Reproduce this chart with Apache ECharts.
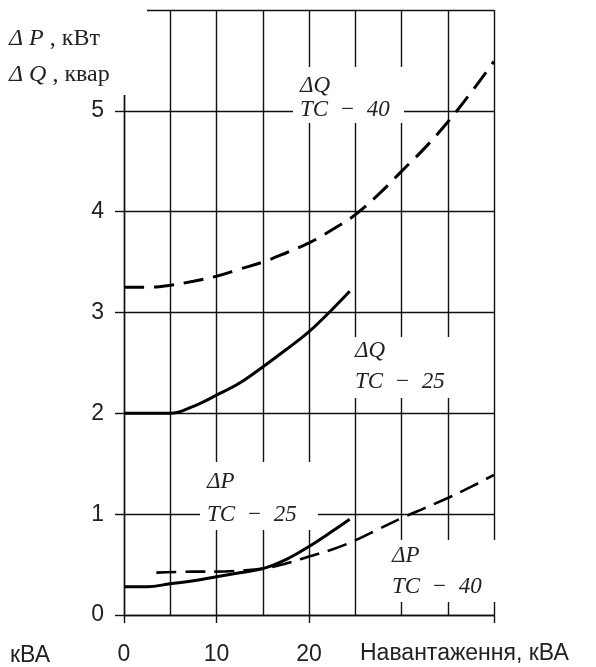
<!DOCTYPE html>
<html>
<head>
<meta charset="utf-8">
<script src="https://cdn.jsdelivr.net/npm/echarts@6/dist/echarts.min.js"></script>
<style>html,body{margin:0;padding:0;background:#fff}#c{width:596px;height:667px}</style>
</head>
<body>
<div id="c"></div>
<script>
// Load, kVA
const dQ40_x = [0, 2.5, 5, 7.5, 10, 12.5, 15, 17.5, 20, 22.5, 25, 27.5, 30, 32.5, 35, 37.5, 40];
const dQ40_y = [3.25, 3.25, 3.27, 3.31, 3.36, 3.43, 3.50, 3.59, 3.69, 3.82, 3.97, 4.17, 4.40, 4.63, 4.89, 5.18, 5.49];
const dQ25_x = [0, 2.5, 5, 7.5, 10, 12.5, 15, 17.5, 20, 22.5, 24.4];
const dQ25_y = [2.0, 2.0, 2.0, 2.07, 2.18, 2.30, 2.46, 2.63, 2.81, 3.03, 3.21];
const dP25_x = [0, 2.5, 5, 7.5, 10, 12.5, 15, 17.5, 20, 22.5, 24.4];
const dP25_y = [0.28, 0.28, 0.31, 0.34, 0.38, 0.42, 0.46, 0.55, 0.68, 0.83, 0.95];
const dP40_x = [3.5, 7.5, 10, 12.5, 15, 17.5, 20, 22.5, 25, 27.5, 30, 32.5, 35, 37.5, 40];
const dP40_y = [0.42, 0.43, 0.43, 0.44, 0.46, 0.51, 0.58, 0.65, 0.74, 0.85, 0.96, 1.06, 1.16, 1.27, 1.39];
const xTickLabels = [0, 10, 20];
const xTicks = [0, 10, 20, 40];
const yTickLabels = [0, 1, 2, 3, 4, 5];

const pairs = (xs, ys) => xs.map((x, i) => [x, ys[i]]);
const chart = echarts.init(document.getElementById('c'), null, {renderer: 'canvas'});
const INK = '#111';
const SANS = '"Liberation Sans", Arial, sans-serif';
const SERIF = '"Liberation Serif", "Times New Roman", serif';
const lblFont = 'italic 23px ' + SERIF;

function curveLabel(bx, by, bw, bh, tx, y1, y2, line1, line2) {
  return [
    {type: 'rect', z: 5, shape: {x: bx, y: by, width: bw, height: bh}, style: {fill: '#fff'}},
    {type: 'text', z: 6, x: tx, y: y1, style: {text: line1, font: lblFont, fill: '#222', verticalAlign: 'middle'}},
    {type: 'text', z: 6, x: tx, y: y2, style: {text: line2, font: lblFont, fill: '#222', verticalAlign: 'middle'}}
  ];
}

const gridLine = {show: true, lineStyle: {color: INK, width: 1.4}};
const option = {
  backgroundColor: '#fff',
  animation: false,
  grid: {left: 124, right: 102, top: 10, bottom: 52},
  xAxis: [
    { // grid lines
      type: 'value', min: 0, max: 40, interval: 5, position: 'bottom',
      axisLine: {show: false}, axisTick: {show: false}, axisLabel: {show: false},
      splitLine: gridLine
    },
    { // axis line, ticks, labels
      type: 'value', min: 0, max: 40, interval: 5, position: 'bottom', offset: 0,
      axisLine: {show: true, onZero: false, lineStyle: {color: INK, width: 1.4}},
      axisTick: {show: true, customValues: xTicks, length: 8, lineStyle: {color: INK, width: 1.4}},
      axisLabel: {show: true, customValues: xTickLabels, margin: 28, fontSize: 23, fontFamily: SANS, color: '#222'},
      splitLine: {show: false}
    }
  ],
  yAxis: [
    {
      type: 'value', min: 0, max: 6, interval: 1, position: 'left',
      axisLine: {show: false}, axisTick: {show: false}, axisLabel: {show: false},
      splitLine: gridLine
    },
    {
      type: 'value', min: 0, max: 6, interval: 1, position: 'left', offset: 0,
      axisLine: {show: true, onZero: false, lineStyle: {color: INK, width: 1.4}},
      axisTick: {show: true, customValues: yTickLabels, length: 9, lineStyle: {color: INK, width: 1.4}},
      axisLabel: {show: true, customValues: yTickLabels, margin: 20, fontSize: 23, fontFamily: SANS, color: '#222'},
      splitLine: {show: false}
    }
  ],
  series: [
    {name: 'ΔQ TC-40', type: 'line', data: pairs(dQ40_x, dQ40_y), smooth: 0.4, showSymbol: false,
     lineStyle: {color: '#000', width: 3, type: [20, 10]}},
    {name: 'ΔQ TC-25', type: 'line', data: pairs(dQ25_x, dQ25_y), smooth: 0.4, showSymbol: false,
     lineStyle: {color: '#000', width: 3}},
    {name: 'ΔP TC-40', type: 'line', data: pairs(dP40_x, dP40_y), smooth: 0.4, showSymbol: false,
     lineStyle: {color: '#000', width: 2.6, type: [20, 9]}},
    {name: 'ΔP TC-25', type: 'line', data: pairs(dP25_x, dP25_y), smooth: 0.4, showSymbol: false,
     lineStyle: {color: '#000', width: 3}}
  ],
  graphic: [
    {type: 'rect', z: 5, shape: {x: 0, y: 0, width: 147, height: 95}, style: {fill: '#fff'}},
    {type: 'text', z: 6, x: 9, y: 39, style: {
      text: '{i|Δ P} , кВт', font: '24px ' + SERIF, fill: '#222', verticalAlign: 'middle',
      rich: {i: {fontStyle: 'italic', fontSize: 24, fontFamily: SERIF}}}},
    {type: 'text', z: 6, x: 9, y: 75, style: {
      text: '{i|Δ Q} , квар', font: '24px ' + SERIF, fill: '#222', verticalAlign: 'middle',
      rich: {i: {fontStyle: 'italic', fontSize: 24, fontFamily: SERIF}}}},
    ...curveLabel(293, 67, 111, 56, 300, 86, 110, 'ΔQ', 'TC\u2002−\u200240'),
    ...curveLabel(346, 337, 112, 61, 355, 351, 382, 'ΔQ', 'TC\u2002−\u200225'),
    ...curveLabel(200, 462, 118, 68, 207, 482, 515, 'ΔP', 'TC\u2002−\u200225'),
    ...curveLabel(386, 540, 110, 62, 392, 556, 587, 'ΔP', 'TC\u2002−\u200240'),
    {type: 'text', z: 6, x: 10, y: 656, style: {text: 'кВА', font: '23px ' + SANS, fill: '#222', verticalAlign: 'middle'}},
    {type: 'text', z: 6, x: 360, y: 654, style: {text: 'Навантаження, кВА', font: '23px ' + SANS, fill: '#222', verticalAlign: 'middle'}}
  ]
};
chart.setOption(option);
</script>
</body>
</html>
